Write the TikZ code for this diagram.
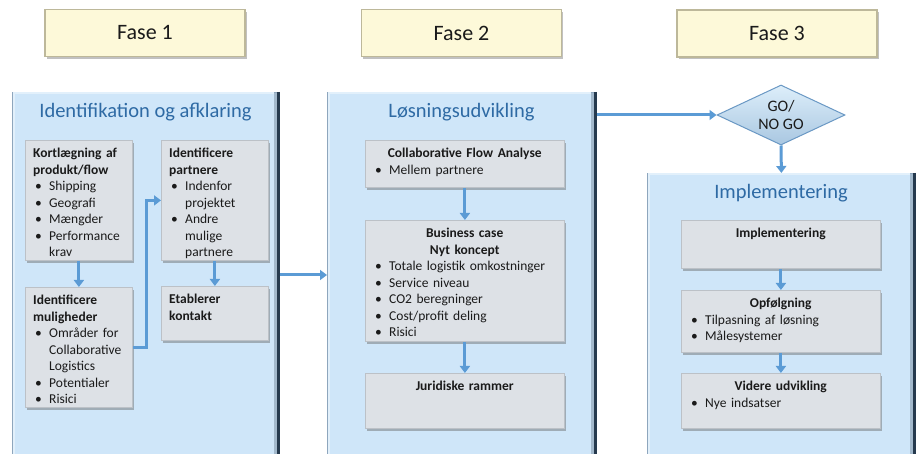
\documentclass[tikz,border=0pt]{standalone}
\usepackage{fontspec}
\setmainfont{Carlito}
\usetikzlibrary{arrows.meta,shadows,shapes.geometric}

\definecolor{panelfill}{HTML}{CFE6F9}
\definecolor{paneledge}{HTML}{8EA6BD}
\definecolor{paneldark}{HTML}{263A4E}
\definecolor{panelbevel}{HTML}{A3B9CC}
\definecolor{panellight}{HTML}{E2F0FB}
\definecolor{cardfill}{HTML}{DDE1E6}
\definecolor{cardedge}{HTML}{BCC1C7}
\definecolor{phasefill}{HTML}{FDF9D9}
\definecolor{phaseedge}{HTML}{BDB89A}
\definecolor{flow}{HTML}{5B9BD5}
\definecolor{titleblue}{HTML}{2E6AA4}
\definecolor{ink}{HTML}{1A1A1A}
\definecolor{dtop}{HTML}{DDEEFA}
\definecolor{dbottom}{HTML}{A9C7E1}
\definecolor{dedge}{HTML}{6A98C4}

% bullet item with hanging indent; \brk breaks a line inside an item
\newcommand\itm[1]{\par\noindent\hangindent=16pt\hangafter=1\makebox[16pt][l]{\hspace{2pt}\textbullet}#1\par}
\newcommand\brk{\hfil\break}

\tikzset{
  panel/.style={fill=panelfill, draw=paneledge, line width=0.8pt, anchor=north west, inner sep=0pt},
  card/.style={fill=cardfill, draw=cardedge, line width=0.8pt, anchor=north west, inner sep=0pt,
    drop shadow={shadow xshift=1.2pt, shadow yshift=-2.2pt, fill=black!60, opacity=0.45}},
  cardtext/.style={anchor=north west, inner sep=0pt, align=left, text=ink,
    font=\fontsize{13.5}{16.5}\selectfont},
  phase/.style={fill=phasefill, draw=phaseedge, line width=1.2pt, inner sep=0pt,
    minimum width=200pt, minimum height=47pt, font=\fontsize{22}{26}\selectfont, text=ink,
    drop shadow={shadow xshift=1.5pt, shadow yshift=-2.5pt, fill=black!60, opacity=0.4}},
  paneltitle/.style={inner sep=0pt, text=titleblue, font=\fontsize{20.5}{24}\selectfont},
  decision/.style={diamond, aspect=2.13, minimum width=128pt, minimum height=60pt, inner sep=0pt,
    top color=dtop, bottom color=dbottom, draw=dedge, line width=1pt, align=center, text=ink,
    font=\fontsize{16}{18}\selectfont},
  flowarrow/.style={draw=flow, line width=3pt, -{Triangle[width=10pt,length=7pt]}},
}

\newcommand\paneledges[1]{%
  \draw[panellight, line width=2pt] ([xshift=2pt,yshift=-1.5pt]#1.south west) -- ([xshift=2pt,yshift=-1.5pt]#1.north west) -- ([xshift=-6pt,yshift=-1.5pt]#1.north east);
  \draw[panelbevel, line width=3pt] ([xshift=-4.5pt,yshift=-1pt]#1.north east) -- ([xshift=-4.5pt]#1.south east);
  \draw[paneldark, line width=3pt] ([xshift=-1.5pt]#1.north east) -- ([xshift=-1.5pt]#1.south east);
}

\begin{document}
\begin{tikzpicture}[x=1pt, y=-1pt]
\useasboundingbox (0,0) rectangle (919,454);
\clip (0,0) rectangle (919,454);
\fill[white] (0,0) rectangle (919,454);

% phase headers
\node[phase] (f1) at (145,33) {Fase 1};
\node[phase] (f2) at (461.5,33) {Fase 2};
\node[phase] (f3) at (777,33.5) {Fase 3};

% panels
\node[panel, minimum width=267pt, minimum height=380pt] (P1) at (12,92) {};
\paneledges{P1}
\node[panel, minimum width=269pt, minimum height=380pt] (P2) at (327,92) {};
\paneledges{P2}
\node[panel, minimum width=268pt, minimum height=300pt] (P3) at (647,173) {};
\paneledges{P3}

\node[paneltitle] (t1) at (145.5,112) {Identifikation og afklaring};
\node[paneltitle] (t2) at (461.5,112) {Løsningsudvikling};
\node[paneltitle] (t3) at (781,193) {Implementering};

% phase 1 cards
\node[card, minimum width=107pt, minimum height=120pt] (k) at (25,140) {};
\node[cardtext, text width=95pt] (kt) at ([xshift=8pt,yshift=-8pt]k.north west)
  {\textbf{Kortlægning af\\produkt/flow}
   \itm{Shipping}\itm{Geografi}\itm{Mængder}\itm{Performance\brk krav}};

\node[card, minimum width=107pt, minimum height=120pt] (m) at (25,287) {};
\node[cardtext, text width=95pt] (mt) at ([xshift=8pt,yshift=-8pt]m.north west)
  {\textbf{Identificere\\muligheder}
   \itm{Områder for\brk Collaborative\brk Logistics}\itm{Potentialer}\itm{Risici}};

\node[card, minimum width=107pt, minimum height=120pt] (p) at (161,140) {};
\node[cardtext, text width=95pt] (pt) at ([xshift=8pt,yshift=-8pt]p.north west)
  {\textbf{Identificere\\partnere}
   \itm{Indenfor\brk projektet}\itm{Andre\brk mulige\brk partnere}};

\node[card, minimum width=107pt, minimum height=54pt] (e) at (161,286) {};
\node[cardtext, text width=95pt] (et) at ([xshift=8pt,yshift=-8pt]e.north west)
  {\textbf{Etablerer\\kontakt}};

% phase 2 cards
\node[card, minimum width=199pt, minimum height=47pt] (c) at (365,140) {};
\node[cardtext, text width=183pt] (ct) at ([xshift=8pt,yshift=-8pt]c.north west)
  {{\centering\bfseries Collaborative Flow Analyse\par}
   \itm{Mellem partnere}};

\node[card, minimum width=199pt, minimum height=121pt] (b) at (365,220) {};
\node[cardtext, text width=183pt] (bt) at ([xshift=8pt,yshift=-8pt]b.north west)
  {{\centering\bfseries Business case\\Nyt koncept\par}
   \itm{Totale logistik omkostninger}\itm{Service niveau}\itm{CO2 beregninger}\itm{Cost/profit deling}\itm{Risici}};

\node[card, minimum width=199pt, minimum height=55pt] (j) at (365,373) {};
\node[cardtext, text width=183pt] (jt) at ([xshift=8pt,yshift=-8pt]j.north west)
  {{\centering\bfseries Juridiske rammer\par}};

% decision
\node[decision] (g) at (781,115) {GO/\\NO GO};

% phase 3 cards
\node[card, minimum width=199pt, minimum height=48pt] (i) at (681,220) {};
\node[cardtext, text width=183pt] (it) at ([xshift=8pt,yshift=-8pt]i.north west)
  {{\centering\bfseries Implementering\par}};

\node[card, minimum width=199pt, minimum height=62pt] (o) at (681,290) {};
\node[cardtext, text width=183pt] (ot) at ([xshift=8pt,yshift=-8pt]o.north west)
  {{\centering\bfseries Opfølgning\par}
   \itm{Tilpasning af løsning}\itm{Målesystemer}};

\node[card, minimum width=199pt, minimum height=55pt] (v) at (681,373) {};
\node[cardtext, text width=183pt] (vt) at ([xshift=8pt,yshift=-8pt]v.north west)
  {{\centering\bfseries Videre udvikling\par}
   \itm{Nye indsatser}};

% connectors
\draw[flowarrow] (k.south) -- (m.north);
\draw[flowarrow] (p.south) -- (e.north);
\draw[flowarrow] (m.east) -- ++(14,0) |- (p.west);
\coordinate (h1) at (0,275);
\draw[flowarrow] (P1.east |- h1) -- (P2.west |- h1);
\draw[flowarrow] (c.south) -- (b.north);
\draw[flowarrow] (b.south) -- (j.north);
\draw[flowarrow] (P2.east |- g.west) -- (g.west);
\draw[flowarrow] (g.south) -- (P3.north);
\draw[flowarrow] (i.south) -- (o.north);
\draw[flowarrow] (o.south) -- (v.north);
\end{tikzpicture}
\end{document}
